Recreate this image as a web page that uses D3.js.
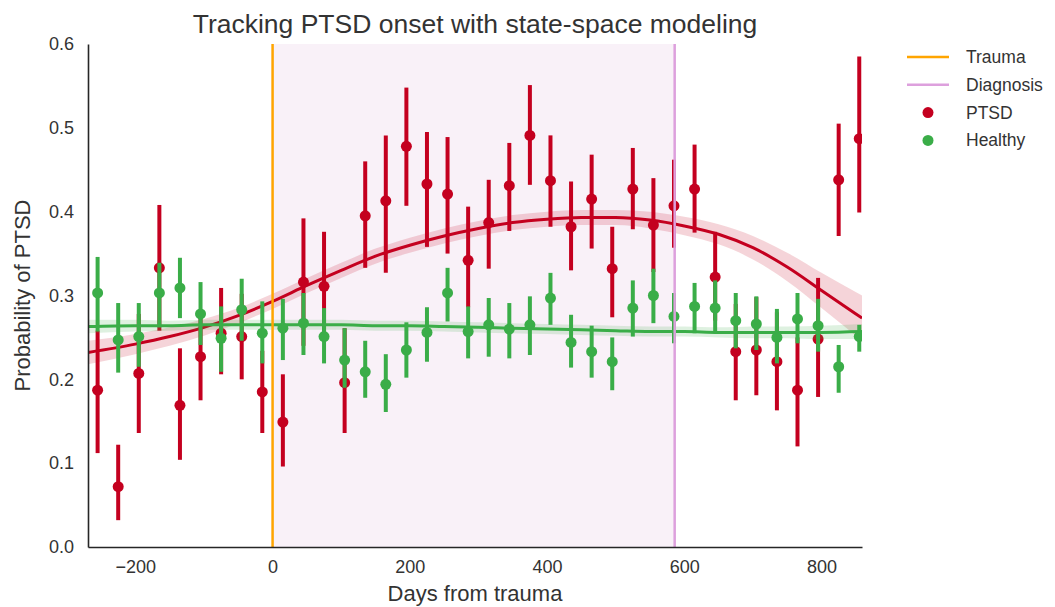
<!DOCTYPE html>
<html>
<head>
<meta charset="utf-8">
<script src="https://cdn.jsdelivr.net/npm/d3@7"></script>
<style>
  body { margin: 0; background: white; }
  text { font-family: "Liberation Sans", Arial, sans-serif; fill: #333; }
</style>
</head>
<body>
<svg id="chart" width="1055" height="607"></svg>
<script>
// binned observations, 30-day bins
const days = [-255, -225, -195, -165, -135, -105, -75, -45, -15, 15, 45, 75, 105, 135, 165, 195, 225, 255, 285,
  315, 345, 375, 405, 435, 465, 495, 525, 555, 585, 615, 645, 675, 705, 735, 765, 795, 825, 855];

const ptsdMean = [0.187, 0.072, 0.207, 0.333, 0.169, 0.227, 0.255, 0.251, 0.185, 0.149, 0.316, 0.311, 0.196,
  0.395, 0.413, 0.478, 0.433, 0.421, 0.342, 0.387, 0.431, 0.491, 0.437, 0.382, 0.415, 0.332, 0.427, 0.384,
  0.407, 0.427, 0.322, 0.233, 0.235, 0.221, 0.187, 0.248, 0.438, 0.487];
const ptsdLo = [0.112, 0.032, 0.136, 0.258, 0.104, 0.175, 0.206, 0.200, 0.136, 0.096, 0.240, 0.246, 0.136,
  0.333, 0.327, 0.407, 0.358, 0.350, 0.286, 0.332, 0.377, 0.432, 0.382, 0.330, 0.356, 0.274, 0.379, 0.328,
  0.357, 0.375, 0.270, 0.175, 0.181, 0.163, 0.120, 0.179, 0.371, 0.399];
const ptsdHi = [0.258, 0.122, 0.278, 0.408, 0.237, 0.279, 0.309, 0.302, 0.234, 0.206, 0.392, 0.376, 0.261,
  0.460, 0.491, 0.548, 0.495, 0.489, 0.406, 0.438, 0.482, 0.551, 0.491, 0.436, 0.468, 0.382, 0.476, 0.440,
  0.462, 0.480, 0.376, 0.290, 0.298, 0.280, 0.250, 0.321, 0.505, 0.585];

const healthyMean = [0.303, 0.247, 0.251, 0.303, 0.309, 0.278, 0.249, 0.283, 0.255, 0.261, 0.267, 0.251, 0.223,
  0.209, 0.194, 0.235, 0.256, 0.303, 0.257, 0.265, 0.260, 0.265, 0.297, 0.244, 0.233, 0.221, 0.285, 0.300,
  0.275, 0.287, 0.285, 0.270, 0.266, 0.250, 0.272, 0.264, 0.215, 0.251];
const healthyLo = [0.257, 0.208, 0.215, 0.262, 0.273, 0.241, 0.209, 0.246, 0.219, 0.223, 0.229, 0.219, 0.190,
  0.178, 0.161, 0.202, 0.221, 0.269, 0.225, 0.227, 0.225, 0.229, 0.265, 0.214, 0.202, 0.187, 0.251, 0.267,
  0.243, 0.255, 0.255, 0.237, 0.235, 0.219, 0.243, 0.233, 0.184, 0.233];
const healthyHi = [0.346, 0.291, 0.291, 0.339, 0.345, 0.316, 0.287, 0.320, 0.293, 0.296, 0.303, 0.285, 0.261,
  0.246, 0.230, 0.268, 0.286, 0.333, 0.287, 0.297, 0.291, 0.299, 0.327, 0.277, 0.264, 0.250, 0.318, 0.332,
  0.303, 0.315, 0.318, 0.303, 0.299, 0.284, 0.303, 0.296, 0.241, 0.265];

// state-space estimates
const fitDays = [-269, -200, -150, -100, -50, 0, 50, 100, 150, 200, 250, 300, 350, 400, 450, 500, 550, 600,
  650, 700, 750, 800, 859];
const ptsdFit = [0.232, 0.242, 0.251, 0.262, 0.276, 0.293, 0.312, 0.330, 0.347, 0.360, 0.371, 0.380, 0.387,
  0.391, 0.393, 0.393, 0.390, 0.383, 0.373, 0.357, 0.334, 0.306, 0.273];
const ptsdBand = [0.014, 0.012, 0.011, 0.010, 0.009, 0.009, 0.009, 0.009, 0.009, 0.009, 0.009, 0.009, 0.009,
  0.009, 0.009, 0.009, 0.010, 0.011, 0.012, 0.014, 0.017, 0.021, 0.027];
const healthyFit = [0.263, 0.264, 0.264, 0.265, 0.265, 0.265, 0.265, 0.265, 0.264, 0.264, 0.263, 0.262, 0.261,
  0.260, 0.259, 0.258, 0.257, 0.257, 0.256, 0.256, 0.256, 0.256, 0.257];
const healthyBand = [0.008, 0.007, 0.006, 0.006, 0.006, 0.006, 0.006, 0.006, 0.006, 0.006, 0.006, 0.006, 0.006,
  0.006, 0.006, 0.006, 0.006, 0.006, 0.006, 0.007, 0.007, 0.008, 0.009];

const traumaDay = 0;
const diagnosisDay = 586;
const xTicks = [-200, 0, 200, 400, 600, 800];
const yTicks = [0.0, 0.1, 0.2, 0.3, 0.4, 0.5, 0.6];

const red = '#c4001f', green = '#3aad48';

var svg = d3.select('#chart');
var margin = {left: 88, top: 44, right: 193, bottom: 60};
var W = 1055 - margin.left - margin.right,
    H = 607 - margin.top - margin.bottom;

var x = d3.scaleLinear().domain([-269, 859]).range([0, W]);
var y = d3.scaleLinear().domain([0, 0.6]).range([H, 0]);

var g = svg.append('g').attr('transform', 'translate(' + margin.left + ',' + margin.top + ')');

svg.append('defs').append('clipPath').attr('id', 'plotclip')
  .append('rect').attr('x', 0).attr('y', 0).attr('width', W).attr('height', H);

var plot = g.append('g').attr('clip-path', 'url(#plotclip)');

// trauma -> diagnosis span
plot.append('rect')
  .attr('x', x(traumaDay)).attr('y', 0)
  .attr('width', x(diagnosisDay) - x(traumaDay)).attr('height', H)
  .style('fill', '#f9f1f8');

function drawSeries(mean, lo, hi, fit, band, color) {
  let fitRows = fitDays.map((d, i) => ({d: d, m: fit[i], b: band[i]}));
  plot.append('path').datum(fitRows)
    .attr('d', d3.area().curve(d3.curveMonotoneX)
      .x(r => x(r.d)).y0(r => y(r.m - r.b)).y1(r => y(r.m + r.b)))
    .style('fill', color).style('opacity', 0.17);
  plot.append('path').datum(fitRows)
    .attr('d', d3.line().curve(d3.curveMonotoneX).x(r => x(r.d)).y(r => y(r.m)))
    .style('fill', 'none').style('stroke', color).style('stroke-width', 3);

  let rows = days.map((d, i) => ({d: d, m: mean[i], lo: lo[i], hi: hi[i]}));
  let pts = plot.append('g');
  pts.selectAll('line').data(rows).enter().append('line')
    .attr('x1', r => x(r.d)).attr('x2', r => x(r.d))
    .attr('y1', r => y(r.lo)).attr('y2', r => y(r.hi))
    .style('stroke', color).style('stroke-width', 4);
  pts.selectAll('circle').data(rows).enter().append('circle')
    .attr('cx', r => x(r.d)).attr('cy', r => y(r.m)).attr('r', 5.5)
    .style('fill', color);
}

drawSeries(ptsdMean, ptsdLo, ptsdHi, ptsdFit, ptsdBand, red);
drawSeries(healthyMean, healthyLo, healthyHi, healthyFit, healthyBand, green);

// event lines
plot.append('line').attr('x1', x(traumaDay)).attr('x2', x(traumaDay)).attr('y1', 0).attr('y2', H)
  .style('stroke', '#ffa500').style('stroke-width', 2.5);
plot.append('line').attr('x1', x(diagnosisDay)).attr('x2', x(diagnosisDay)).attr('y1', 0).attr('y2', H)
  .style('stroke', '#dda0dd').style('stroke-width', 2.5);

// axes (seaborn white style: spines left/bottom, no tick marks)
var xAxis = g.append('g').attr('transform', 'translate(0,' + H + ')')
  .call(d3.axisBottom(x).tickValues(xTicks).tickSize(0).tickPadding(13)
    .tickFormat(d => d < 0 ? '\u2212' + Math.abs(d) : d));
var yAxis = g.append('g')
  .call(d3.axisLeft(y).tickValues(yTicks).tickSize(0).tickPadding(14).tickFormat(d3.format('.1f')));
[xAxis, yAxis].forEach(a => {
  a.select('.domain').style('stroke', '#262626').style('stroke-width', 1.6);
  a.selectAll('text').style('font-size', '18px').style('fill', '#333')
    .style('font-family', '"Liberation Sans", Arial, sans-serif');
});

// title and labels
svg.append('text').attr('x', margin.left + W / 2).attr('y', 33)
  .attr('text-anchor', 'middle').style('font-size', '26.5px')
  .text('Tracking PTSD onset with state-space modeling');
svg.append('text').attr('x', margin.left + W / 2).attr('y', 601)
  .attr('text-anchor', 'middle').style('font-size', '22px')
  .text('Days from trauma');
svg.append('text').attr('transform', 'translate(30,' + (margin.top + H / 2) + ') rotate(-90)')
  .attr('text-anchor', 'middle').style('font-size', '22px')
  .text('Probability of PTSD');

// legend
var legend = [
  {label: 'Trauma', kind: 'line', color: '#ffa500'},
  {label: 'Diagnosis', kind: 'line', color: '#dda0dd'},
  {label: 'PTSD', kind: 'dot', color: red},
  {label: 'Healthy', kind: 'dot', color: green}
];
var lg = svg.append('g').attr('transform', 'translate(907,57)');
legend.forEach((item, i) => {
  let ly = i * 27.8;
  if (item.kind === 'line') {
    lg.append('line').attr('x1', 0).attr('x2', 42).attr('y1', ly).attr('y2', ly)
      .style('stroke', item.color).style('stroke-width', 2.5);
  } else {
    lg.append('circle').attr('cx', 21).attr('cy', ly).attr('r', 5.5).style('fill', item.color);
  }
  lg.append('text').attr('x', 59).attr('y', ly + 6).style('font-size', '17.5px').text(item.label);
});
</script>
</body>
</html>
